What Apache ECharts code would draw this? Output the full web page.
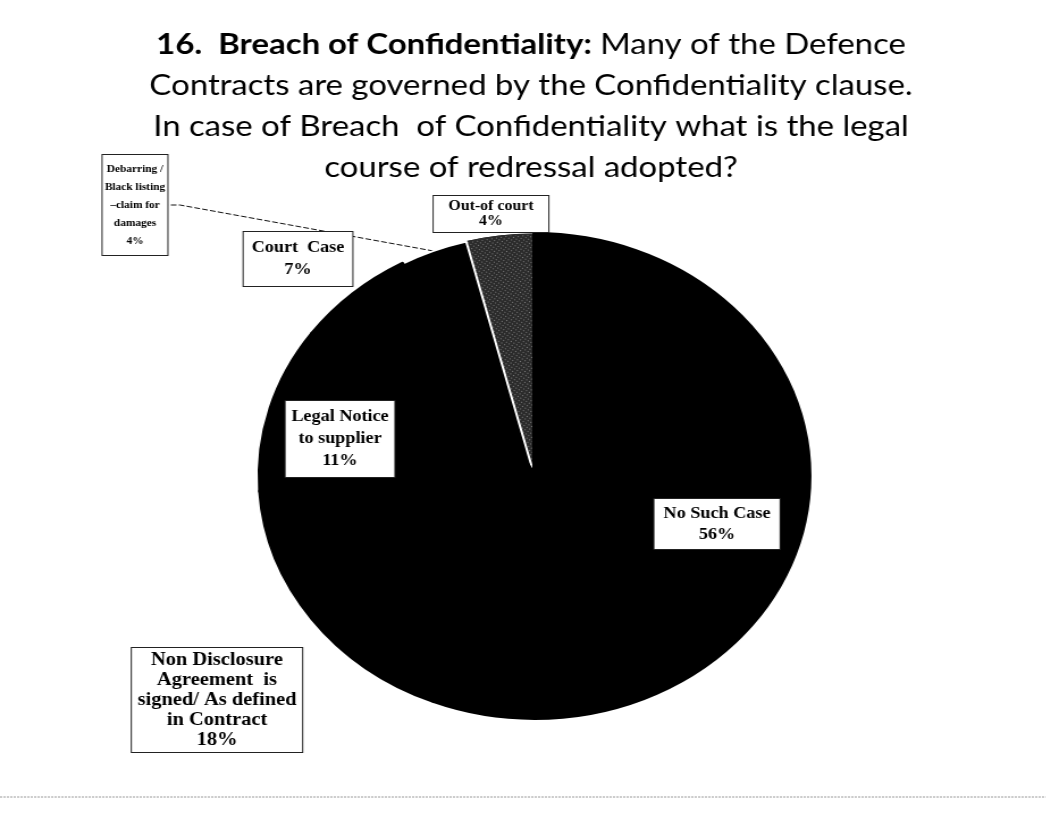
<!DOCTYPE html>
<html>
<head>
<meta charset="utf-8">
<script src="https://cdn.jsdelivr.net/npm/echarts@6/dist/echarts.min.js"></script>
<style>
  html, body { margin: 0; padding: 0; background: #fff; overflow: hidden; }
  #wrap { width: 1046px; height: 818px; overflow: hidden; }
  /* the slide is drawn a little wider than tall, so the pie reads as an oval */
  #chart { width: 921.6px; height: 818px; transform: scaleX(1.135); transform-origin: 0 0; }
</style>
</head>
<body>
<div id="wrap"><div id="chart"></div></div>
<script>
// Survey answers, listed counter-clockwise from twelve o'clock
const categories = [
  'Out-of court',
  'Debarring /\nBlack listing\n\u2013claim for\ndamages',
  'Court  Case',
  'Legal Notice\nto supplier',
  'Non Disclosure\nAgreement  is\nsigned/ As defined\nin Contract',
  'No Such Case'
];
const shares = [4, 4, 7, 11, 18, 56];   // percent of respondents

const titleLines = [
  '{b|16.  Breach of Confidentiality:} Many of the Defence',
  'Contracts are governed by the Confidentiality clause.',
  'In case of Breach  of Confidentiality what is the legal',
  'course of redressal adopted?'
];

const SX = 1.135;                 // horizontal stretch of the page
const W = 1046 / SX;

// where each callout box sits on the page (box centre, page pixels)
const calloutAt = [
  [491, 214], [135, 205], [298, 259], [340, 439], [217, 700], [717, 524]
];
const calloutStyle = [
  { fontSize: 14, lineHeight: 15, padding: [3, 13] },
  { fontSize: 10, lineHeight: 18, padding: [5, 2] },
  { fontSize: 16, lineHeight: 22, padding: [5, 7] },
  { fontSize: 16, lineHeight: 22, padding: [5, 5] },
  { fontSize: 18, lineHeight: 20, padding: [2, 5] },
  { fontSize: 16, lineHeight: 21, padding: [4, 8] }
];

const SEAM = 4;   // edge width shared by the black wedges

const pieData = categories.map((name, i) => {
  const item = {
    name: name,
    value: shares[i],
    itemStyle: { color: '#000', borderColor: '#000', borderWidth: SEAM },
    label: Object.assign({}, calloutStyle[i]),
    labelLine: { show: false }
  };
  if (i === 0) {
    // stippled grey wedge
    item.itemStyle = {
      color: '#2b2b2b', borderColor: '#2b2b2b', borderWidth: 1,
      decal: {
        symbol: 'rect', symbolSize: 1, color: 'rgba(255,255,255,0.4)',
        dashArrayX: [1, 2], dashArrayY: [1, 2], rotation: 0.6
      }
    };
  }
  if (i === 1) {
    // thin white seam against the grey wedge
    item.itemStyle = { color: '#000', borderColor: '#fff', borderWidth: 2 };
    item.labelLine = { show: true, length: 10, length2: 10,
      lineStyle: { color: '#111', width: 1, type: [5, 2] } };
  }
  return item;
});

const chart = echarts.init(document.getElementById('chart'), null, { renderer: 'canvas' });
chart.setOption({
  backgroundColor: '#fff',
  animation: false,
  title: {
    left: 531 / SX,
    textAlign: 'center',
    top: 24,
    padding: 0,
    text: titleLines.join('\n'),
    textStyle: {
      fontFamily: 'Lato', fontSize: 29, fontWeight: 'normal', color: '#000', lineHeight: 41,
      rich: { b: { fontFamily: 'Lato', fontSize: 29, fontWeight: 'bold', color: '#000', lineHeight: 41 } }
    }
  },
  graphic: [{
    type: 'line', silent: true,
    shape: { x1: 0, y1: 797, x2: W, y2: 797 },
    style: { stroke: '#9a9a9a', lineWidth: 1, lineDash: [2, 1] }
  }],
  series: [{
    type: 'pie',
    center: [534.5 / SX, 476],
    radius: 242,
    startAngle: 90,
    clockwise: false,
    silent: true,
    emphasis: { disabled: true },
    label: {
      show: true,
      position: 'outside',
      formatter: '{b}\n{c}%',
      fontFamily: 'Liberation Serif',
      fontWeight: 'bold',
      color: '#000',
      align: 'center',
      backgroundColor: '#fff',
      borderColor: '#222',
      borderWidth: 1
    },
    labelLayout: function (p) {
      const at = calloutAt[p.dataIndex];
      return { x: at[0] / SX, y: at[1], align: 'center', verticalAlign: 'middle' };
    },
    data: pieData
  }]
});
</script>
</body>
</html>
